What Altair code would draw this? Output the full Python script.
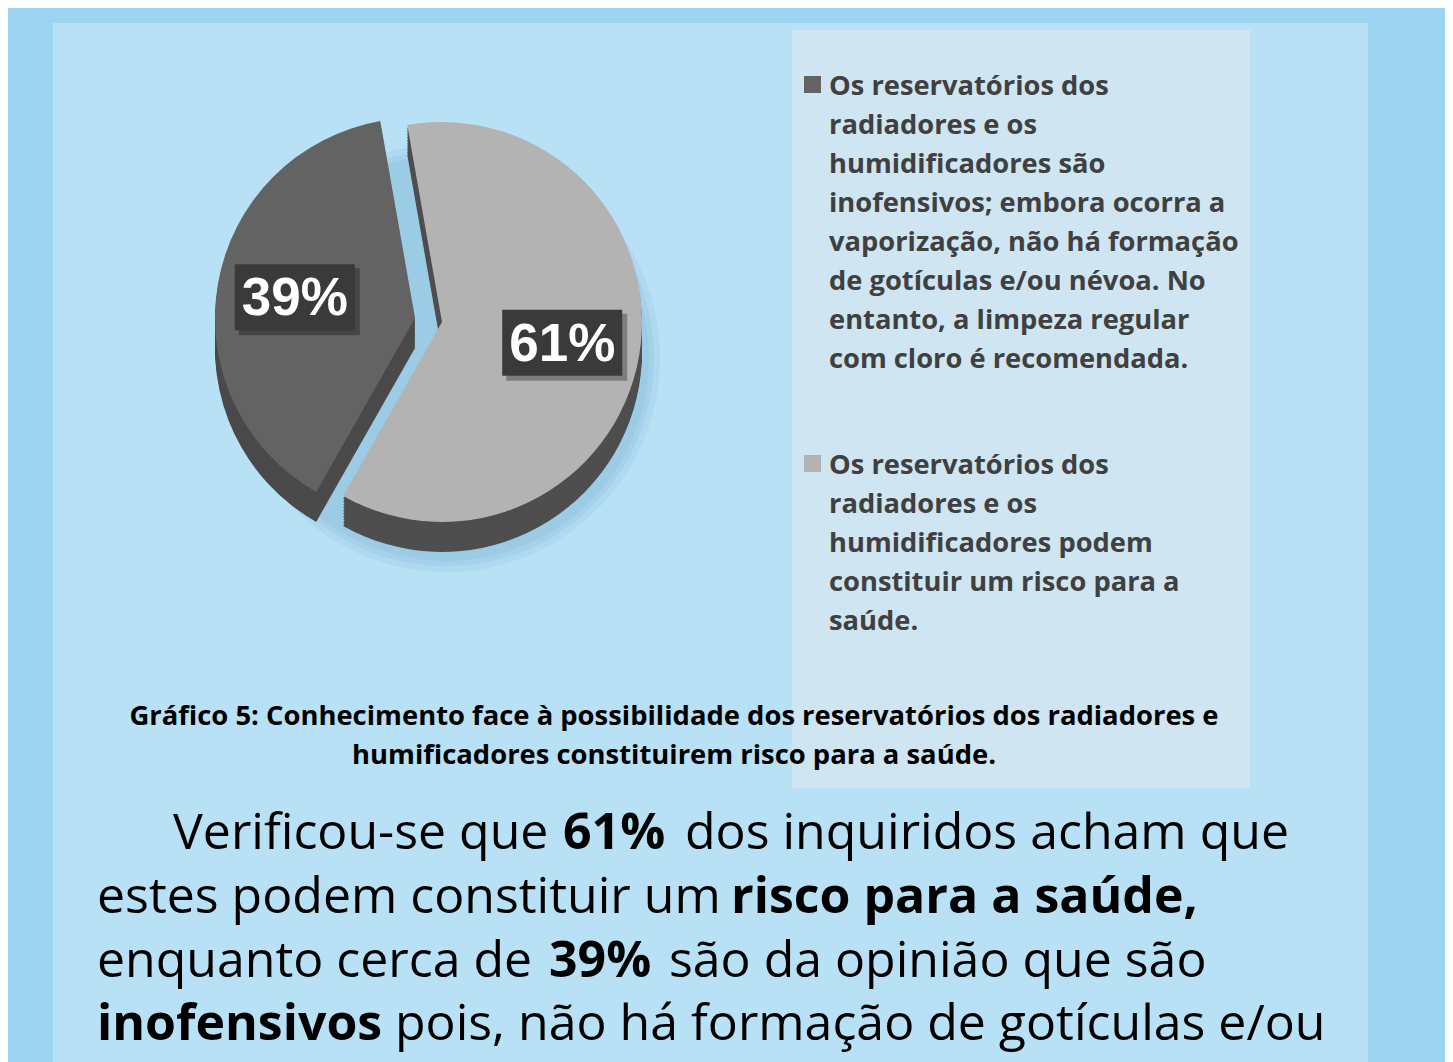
import math
import altair as alt
import pandas as pd

# ---------------- data ----------------
categories = ["inofensivos", "risco"]
values = [39, 61]
pie_order = [2, 1]  # the 61% slice starts at the top, clockwise
legend_texts = [
    ["Os reservatórios dos", "radiadores e os", "humidificadores são",
     "inofensivos; embora ocorra a", "vaporização, não há formação",
     "de gotículas e/ou névoa. No", "entanto, a limpeza regular",
     "com cloro é recomendada."],
    ["Os reservatórios dos", "radiadores e os", "humidificadores podem",
     "constituir um risco para a", "saúde."],
]
caption_lines = [
    "Gráfico 5: Conhecimento face à possibilidade dos reservatórios dos radiadores e",
    "humificadores constituirem risco para a saúde.",
]
body_texts = [
    ["Verificou-se que", "61%", "dos inquiridos acham que"],
    ["estes podem constituir um", "risco para a saúde,"],
    ["enquanto cerca de", "39%", "são da opinião que são"],
    ["inofensivos", "pois, não há formação de gotículas e/ou"],
]
body_bold = [
    [False, True, False],
    [False, True],
    [False, True, False],
    [True, False],
]

# ---------------- layout / style ----------------
W, H = 1437, 1054
OUTER = "#9dd5f1"
INNER = "#b8e1f6"
LEGEND_BG = "#cfe5f2"
slice_colors = ["#636363", "#b3b3b3"]
side_colors = ["#4a4a4a", "#4e4e4e"]

CX, CY = 434, 314
R = 200
DEPTH = 30
A0 = -10 * math.pi / 180
explode = {"inofensivos": (-27, -4), "risco": (0, 0)}
LR = 122
BW, BH = 120, 66

legend_x = 821
legend_y = [87, 466]
square_x = (796, 813)
square_y = [(68, 85), (447, 464)]
LEG_LH = 39

cap_x, cap_y = 666, 717
body_x = [[165, 555, 677], [89, 723], [89, 541, 661], [89, 387]]
body_y = [841, 905, 969, 1032]

# ---------------- tables ----------------
pie_df = pd.DataFrame({"category": categories, "value": values, "order": pie_order})
leg_df = pd.DataFrame({
    "category": categories,
    "text": ["\n".join(t) for t in legend_texts],
    "x": [legend_x] * 2,
    "y": legend_y,
    "sx0": [square_x[0]] * 2,
    "sx1": [square_x[1]] * 2,
    "sy0": [s[0] for s in square_y],
    "sy1": [s[1] for s in square_y],
})
rows = []
for li, (texts, bolds) in enumerate(zip(body_texts, body_bold)):
    for ri, (t, b) in enumerate(zip(texts, bolds)):
        rows.append({"text": t, "bold": b, "x": body_x[li][ri], "y": body_y[li]})
body_df = pd.DataFrame(rows)
cap_df = pd.DataFrame({"text": ["\n".join(caption_lines)], "x": [cap_x], "y": [cap_y]})
dummy = pd.DataFrame({"a": [0]})

color_scale = alt.Scale(domain=categories, range=slice_colors)
theta_scale = alt.Scale(domain=[0, 100], range=[A0, A0 + 2 * math.pi])


def pie_base(cat):
    return (
        alt.Chart(pie_df)
        .transform_window(cum="sum(value)", sort=[alt.SortField("order")], frame=[None, 0])
        .transform_calculate(t0="datum.cum - datum.value", t1="datum.cum")
        .transform_filter(alt.datum.category == cat)
    )


def rect(x0, x1, y0, y1, color):
    return alt.Chart(dummy).mark_rect(color=color).encode(
        x=alt.value(x0), x2=alt.value(x1), y=alt.value(y0), y2=alt.value(y1)
    )


layers = [
    rect(45, 1360, 15, H, INNER),
    rect(784, 1242, 22, 780, LEGEND_BG),
]

# soft shadow under the pie
for grow, op in ((14, 0.25), (8, 0.35), (3, 0.45)):
    layers.append(
        alt.Chart(dummy).mark_arc(theta=0, theta2=2 * math.pi, radius=R + grow,
                                  color="#93c4df", opacity=op)
        .encode(x=alt.value(CX + 4), y=alt.value(CY + DEPTH + 6))
    )

# sides (depth)
for cat, scol in zip(categories, side_colors):
    dx, dy = explode[cat]
    for k in range(DEPTH, 0, -3):
        layers.append(
            pie_base(cat).mark_arc(radius=R, color=scol).encode(
                theta=alt.Theta("t0:Q", scale=theta_scale),
                theta2="t1:Q",
                x=alt.value(CX + dx),
                y=alt.value(CY + dy + k),
            )
        )
# tops
for cat in categories:
    dx, dy = explode[cat]
    layers.append(
        pie_base(cat).mark_arc(radius=R).encode(
            theta=alt.Theta("t0:Q", scale=theta_scale),
            theta2="t1:Q",
            color=alt.Color("category:N", scale=color_scale, legend=None),
            x=alt.value(CX + dx),
            y=alt.value(CY + dy),
        )
    )

# data labels
for cat in categories:
    dx, dy = explode[cat]
    lab = pie_base(cat).transform_calculate(
        mid=f"{A0} + (datum.t0 + datum.t1) / 200 * 2 * PI",
    ).transform_calculate(
        lx=f"{CX + dx} + {LR} * sin(datum.mid)",
        ly=f"{CY + dy} - {LR} * cos(datum.mid)",
        label="datum.value + '%'",
    ).transform_calculate(
        bx0=f"datum.lx - {BW / 2}", bx1=f"datum.lx + {BW / 2}",
        by0=f"datum.ly - {BH / 2}", by1=f"datum.ly + {BH / 2}",
        sx0=f"datum.lx - {BW / 2} + 4", sx1=f"datum.lx + {BW / 2} + 5",
        sy0=f"datum.ly - {BH / 2} + 4", sy1=f"datum.ly + {BH / 2} + 5",
    )
    layers.append(lab.mark_rect(color="#000000", opacity=0.3).encode(
        x=alt.X("sx0:Q", scale=None), x2="sx1:Q",
        y=alt.Y("sy0:Q", scale=None), y2="sy1:Q"))
    layers.append(lab.mark_rect(color="#3a3a3a").encode(
        x=alt.X("bx0:Q", scale=None), x2="bx1:Q",
        y=alt.Y("by0:Q", scale=None), y2="by1:Q"))
    layers.append(lab.mark_text(font="Liberation Sans", fontWeight="bold", fontSize=53,
                                color="white", align="center", baseline="middle", dy=2).encode(
        x=alt.X("lx:Q", scale=None), y=alt.Y("ly:Q", scale=None), text="label:N"))

# legend
layers.append(alt.Chart(leg_df).mark_rect().encode(
    x=alt.X("sx0:Q", scale=None), x2="sx1:Q",
    y=alt.Y("sy0:Q", scale=None), y2="sy1:Q",
    color=alt.Color("category:N", scale=color_scale, legend=None)))
layers.append(alt.Chart(leg_df).mark_text(
    font="Open Sans", fontWeight="bold", fontSize=27.3, color="#404040",
    align="left", baseline="alphabetic", lineBreak="\n", lineHeight=LEG_LH).encode(
    x=alt.X("x:Q", scale=None), y=alt.Y("y:Q", scale=None), text="text:N"))

# caption
layers.append(alt.Chart(cap_df).mark_text(
    font="Open Sans", fontWeight="bold", fontSize=27.4, color="#000000",
    align="center", baseline="alphabetic", lineBreak="\n", lineHeight=39).encode(
    x=alt.X("x:Q", scale=None), y=alt.Y("y:Q", scale=None), text="text:N"))

# body text
for is_bold in (False, True):
    layers.append(alt.Chart(body_df).transform_filter(alt.datum.bold == is_bold).mark_text(
        font="Open Sans", fontWeight="bold" if is_bold else "normal", fontSize=50,
        color="#000000", align="left", baseline="alphabetic").encode(
        x=alt.X("x:Q", scale=None), y=alt.Y("y:Q", scale=None), text="text:N"))

chart = alt.layer(*layers).properties(
    width=W, height=H, background=OUTER, padding=0,
    autosize=alt.AutoSizeParams(type="none"),
).configure_view(stroke=None)

chart.save("out.html", embed_options={"renderer": "svg", "actions": False})
